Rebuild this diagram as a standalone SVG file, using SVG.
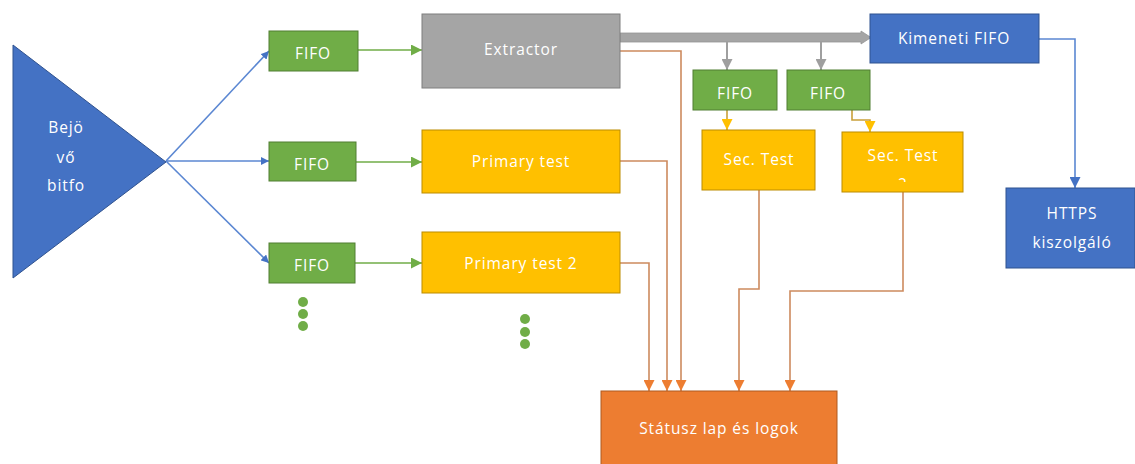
<svg xmlns="http://www.w3.org/2000/svg" width="1135" height="464" viewBox="0 0 1135 464">
  <defs>
    <style>
      text { font-family: "Open Sans", "Noto Sans", "DejaVu Sans", sans-serif; font-size: 15.5px; fill: #ffffff; text-anchor: middle; dominant-baseline: central; letter-spacing: 0.9px; }
      .blue { fill: #4472c4; stroke: #2f528f; stroke-width: 1; }
      .green { fill: #70ad47; stroke: #507e32; stroke-width: 1; }
      .grey { fill: #a5a5a5; stroke: #7f7f7f; stroke-width: 1; }
      .yellow { fill: #ffc000; stroke: #bc8c00; stroke-width: 1; }
      .orange { fill: #ed7d31; stroke: #ae5a21; stroke-width: 1; }
      .dot { fill: #70ad47; }
      .c-blue { fill: none; stroke: #5b87d2; stroke-width: 1.6; }
      .c-green { fill: none; stroke: #70ad47; stroke-width: 1.6; }
      .c-grey { fill: none; stroke: #9f9f9f; stroke-width: 2; }
      .c-gold { fill: none; stroke: #c9a03a; stroke-width: 1.6; }
      .c-orange { fill: none; stroke: #cd8a5e; stroke-width: 1.6; }
    </style>
    <marker id="ah-blue" viewBox="0 0 10 10" refX="10" refY="5" markerWidth="8" markerHeight="8" markerUnits="userSpaceOnUse" orient="auto">
      <path d="M0,0 L10,5 L0,10 z" fill="#4472c4"/>
    </marker>
    <marker id="ah-blue-lg" viewBox="0 0 10 10" refX="10" refY="5" markerWidth="11" markerHeight="11" markerUnits="userSpaceOnUse" orient="auto">
      <path d="M0,0 L10,5 L0,10 z" fill="#4472c4"/>
    </marker>
    <marker id="ah-green" viewBox="0 0 10 10" refX="10" refY="5" markerWidth="11" markerHeight="11" markerUnits="userSpaceOnUse" orient="auto">
      <path d="M0,0 L10,5 L0,10 z" fill="#70ad47"/>
    </marker>
    <marker id="ah-grey" viewBox="0 0 10 10" refX="10" refY="5" markerWidth="11" markerHeight="11" markerUnits="userSpaceOnUse" orient="auto">
      <path d="M0,0 L10,5 L0,10 z" fill="#9f9f9f"/>
    </marker>
    <marker id="ah-gold" viewBox="0 0 10 10" refX="10" refY="5" markerWidth="11" markerHeight="11" markerUnits="userSpaceOnUse" orient="auto">
      <path d="M0,0 L10,5 L0,10 z" fill="#ffc000"/>
    </marker>
    <marker id="ah-orange" viewBox="0 0 10 10" refX="10" refY="5" markerWidth="11" markerHeight="11" markerUnits="userSpaceOnUse" orient="auto">
      <path d="M0,0 L10,5 L0,10 z" fill="#ed7d31"/>
    </marker>
    <!-- second line of the Sec. Test 2 label overflows the text area and is cut off -->
    <clipPath id="sec2-clip">
      <rect x="842" y="132" width="121" height="50"/>
    </clipPath>
  </defs>

  <rect width="1135" height="464" fill="#ffffff"/>

  <!-- connectors -->
  <g id="connectors">
    <!-- splitter to input FIFOs -->
    <line class="c-blue" x1="166" y1="161" x2="269" y2="51" marker-end="url(#ah-blue)"/>
    <line class="c-blue" x1="166" y1="161" x2="269" y2="161" marker-end="url(#ah-blue)"/>
    <line class="c-blue" x1="166" y1="161" x2="269" y2="263" marker-end="url(#ah-blue)"/>
    <!-- FIFOs to workers -->
    <line class="c-green" x1="358" y1="50" x2="422" y2="50" marker-end="url(#ah-green)"/>
    <line class="c-green" x1="356" y1="162" x2="422" y2="162" marker-end="url(#ah-green)"/>
    <line class="c-green" x1="355" y1="263" x2="422" y2="263" marker-end="url(#ah-green)"/>
    <!-- extractor main output (wide arrow) -->
    <polygon points="620,33 861,33 861,31 871,37.5 861,44 861,42 620,42" fill="#a5a5a5" stroke="#959595" stroke-width="0.8"/>
    <line class="c-grey" x1="727" y1="42" x2="727" y2="70" marker-end="url(#ah-grey)"/>
    <line class="c-grey" x1="821" y1="42" x2="821" y2="70" marker-end="url(#ah-grey)"/>
    <!-- secondary FIFOs to secondary tests -->
    <line class="c-gold" x1="727" y1="110" x2="727" y2="130" marker-end="url(#ah-gold)"/>
    <polyline class="c-gold" points="852,110 852,120 870,120 870,132" marker-end="url(#ah-gold)"/>
    <!-- output FIFO to HTTPS server -->
    <polyline class="c-blue" points="1039,39 1075,39 1075,188" marker-end="url(#ah-blue-lg)"/>
    <!-- status / log feeds -->
    <polyline class="c-orange" points="620,263 649,263 649,391" marker-end="url(#ah-orange)"/>
    <polyline class="c-orange" points="620,161 667,161 667,391" marker-end="url(#ah-orange)"/>
    <polyline class="c-orange" points="620,51 681,51 681,391" marker-end="url(#ah-orange)"/>
    <polyline class="c-orange" points="759,190 759,289 739,289 739,391" marker-end="url(#ah-orange)"/>
    <polyline class="c-orange" points="903,192 903,291 790,291 790,391" marker-end="url(#ah-orange)"/>
  </g>

  <g id="splitter">
    <polygon class="blue" points="13,45 166,162 13,278"/>
    <text x="66" y="127">Bejö</text>
    <text x="66" y="157">vő</text>
    <text x="66" y="185">bitfo</text>
  </g>

  <g id="fifo-in-1">
    <rect class="green" x="269" y="31" width="89" height="40"/>
    <text x="313" y="53">FIFO</text>
  </g>
  <g id="fifo-in-2">
    <rect class="green" x="269" y="142" width="87" height="39"/>
    <text x="312" y="164">FIFO</text>
  </g>
  <g id="fifo-in-3">
    <rect class="green" x="269" y="243" width="86" height="40"/>
    <text x="312" y="265">FIFO</text>
  </g>
  <g id="fifo-in-more">
    <circle class="dot" cx="303" cy="302" r="5"/>
    <circle class="dot" cx="303" cy="314" r="5"/>
    <circle class="dot" cx="303" cy="326" r="5"/>
  </g>

  <g id="extractor">
    <rect class="grey" x="422" y="14" width="198" height="74"/>
    <text x="521" y="49">Extractor</text>
  </g>
  <g id="primary-test">
    <rect class="yellow" x="422" y="130" width="198" height="63"/>
    <text x="521" y="161">Primary test</text>
  </g>
  <g id="primary-test-2">
    <rect class="yellow" x="422" y="232" width="198" height="61"/>
    <text x="521" y="263">Primary test 2</text>
  </g>
  <g id="primary-more">
    <circle class="dot" cx="525" cy="319" r="5"/>
    <circle class="dot" cx="525" cy="332" r="5"/>
    <circle class="dot" cx="525" cy="344" r="5"/>
  </g>

  <g id="fifo-sec-1">
    <rect class="green" x="693" y="70" width="84" height="40"/>
    <text x="735" y="93">FIFO</text>
  </g>
  <g id="fifo-sec-2">
    <rect class="green" x="787" y="70" width="83" height="40"/>
    <text x="828" y="93">FIFO</text>
  </g>
  <g id="sec-test-1">
    <rect class="yellow" x="702" y="130" width="113" height="60"/>
    <text x="759" y="159">Sec. Test</text>
  </g>
  <g id="sec-test-2">
    <rect class="yellow" x="842" y="132" width="121" height="60"/>
    <text x="903" y="155">Sec. Test</text>
    <text x="903" y="184" clip-path="url(#sec2-clip)">2</text>
  </g>

  <g id="output-fifo">
    <rect class="blue" x="870" y="14" width="169" height="49"/>
    <text x="954" y="38">Kimeneti FIFO</text>
  </g>
  <g id="https-server">
    <rect class="blue" x="1006" y="188" width="129" height="80"/>
    <text x="1072" y="213">HTTPS</text>
    <text x="1072" y="242">kiszolgáló</text>
  </g>

  <g id="status">
    <rect class="orange" x="601" y="391" width="236" height="80"/>
    <text x="719" y="428">Státusz lap és logok</text>
  </g>
</svg>
